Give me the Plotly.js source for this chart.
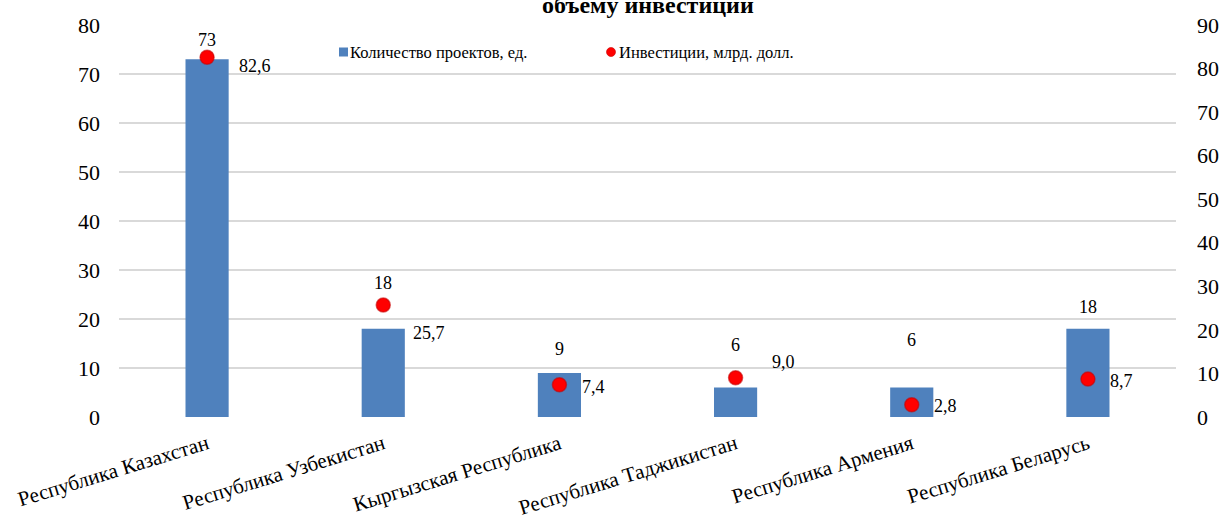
<!DOCTYPE html>
<html>
<head>
<meta charset="utf-8">
<script src="https://cdn.plot.ly/plotly-3.0.1.min.js"></script>
<style>
  html, body { margin: 0; padding: 0; background: #ffffff; }
  #chart { width: 1223px; height: 524px; }
</style>
</head>
<body>
<div id="chart"></div>
<script>
// ---- data ----
const countries = [
  "Республика Казахстан",
  "Республика Узбекистан",
  "Кыргызская Республика",
  "Республика Таджикистан",
  "Республика Армения",
  "Республика Беларусь"
];
const projects = [73, 18, 9, 6, 6, 18];
const investments = [82.6, 25.7, 7.4, 9.0, 2.8, 8.7];
const seriesNames = ["Количество проектов, ед.", "Инвестиции, млрд. долл."];
const titleText = "объему инвестиций";

// ---- styles ----
const FONT = "Liberation Serif";
const BAR_COLOR = "#4f81bd";
const DOT_COLOR = "#ff0000";
// label offsets (px) – style only
const projLabelLift = [19, 46, 24, 43, 48, 22];
const invLabelShift = [[48, -9], [46, -28], [34, -2], [48, 16], [34, -1], [34, -2]];

const fmt = v => v.toFixed(1).replace(".", ",");

const traces = [
  {
    type: "bar",
    name: seriesNames[0],
    x: countries,
    y: projects,
    yaxis: "y",
    marker: { color: BAR_COLOR },
    width: 0.245,
    showlegend: false
  },
  {
    type: "scatter",
    mode: "markers",
    name: seriesNames[1],
    x: countries,
    y: investments,
    yaxis: "y2",
    marker: { color: DOT_COLOR, size: 14, line: { color: "rgba(200,0,0,0.6)", width: 1.5 } },
    showlegend: false
  }
];

const annotations = [];
countries.forEach((c, i) => {
  annotations.push({
    x: c, y: projects[i], xref: "x", yref: "y",
    text: String(projects[i]), showarrow: false,
    yshift: projLabelLift[i], xanchor: "center", yanchor: "middle",
    font: { family: FONT, size: 18, color: "#000" }
  });
  annotations.push({
    x: c, y: investments[i], xref: "x", yref: "y2",
    text: fmt(investments[i]), showarrow: false,
    xshift: invLabelShift[i][0], yshift: invLabelShift[i][1],
    xanchor: "center", yanchor: "middle",
    font: { family: FONT, size: 18, color: "#000" }
  });
});
// title (only its last line is visible in the reference)
annotations.push({
  x: 0.5, y: 1 + (25 - 20) / 392, xref: "paper", yref: "paper", yanchor: "bottom",
  text: "<b>" + titleText + "</b>", showarrow: false,
  font: { family: FONT, size: 24, color: "#000" }
});

// hand-built legend (compact symbol/text spacing as in the reference)
const px = x => (x - 119) / 1057;
const py = y => 1 - (y - 25) / 392;
annotations.push({
  x: px(348), y: py(52), xref: "paper", yref: "paper", xanchor: "left", yanchor: "middle",
  text: seriesNames[0], showarrow: false, font: { family: FONT, size: 16.5, color: "#000" }
});
annotations.push({
  x: px(617), y: py(52), xref: "paper", yref: "paper", xanchor: "left", yanchor: "middle",
  text: seriesNames[1], showarrow: false, font: { family: FONT, size: 16.5, color: "#000" }
});
const shapes = [
  { type: "rect", xref: "paper", yref: "paper", x0: px(339), x1: px(348), y0: py(56.5), y1: py(47.5),
    fillcolor: BAR_COLOR, line: { width: 0 } },
  { type: "circle", xref: "paper", yref: "paper", x0: px(606.5), x1: px(615.5), y0: py(56.5), y1: py(47.5),
    fillcolor: DOT_COLOR, line: { color: "rgba(200,0,0,0.6)", width: 1 } }
];

const layout = {
  width: 1223, height: 524,
  margin: { l: 119, r: 47, t: 25, b: 107 },
  paper_bgcolor: "#ffffff",
  plot_bgcolor: "#ffffff",
  font: { family: FONT, size: 20, color: "#000" },
  showlegend: false,
  bargap: 0.755,
  xaxis: {
    type: "category",
    tickangle: -17,
    tickfont: { family: FONT, size: 21, color: "#000" },
    showline: false, showgrid: false, ticks: "",
    ticklabelstandoff: 10
  },
  yaxis: {
    range: [0, 80], dtick: 10,
    showgrid: true, gridcolor: "#d9d9d9", gridwidth: 1.5,
    zeroline: false, showline: false, ticks: "",
    tickfont: { family: FONT, size: 22, color: "#000" },
    ticklabelstandoff: 18
  },
  yaxis2: {
    range: [0, 90], dtick: 10,
    overlaying: "y", side: "right",
    showgrid: false, zeroline: false, showline: false, ticks: "",
    tickfont: { family: FONT, size: 22, color: "#000" },
    ticklabelstandoff: 20
  },
  annotations: annotations,
  shapes: shapes
};

Plotly.newPlot("chart", traces, layout, { displayModeBar: false, staticPlot: true });
</script>
</body>
</html>
